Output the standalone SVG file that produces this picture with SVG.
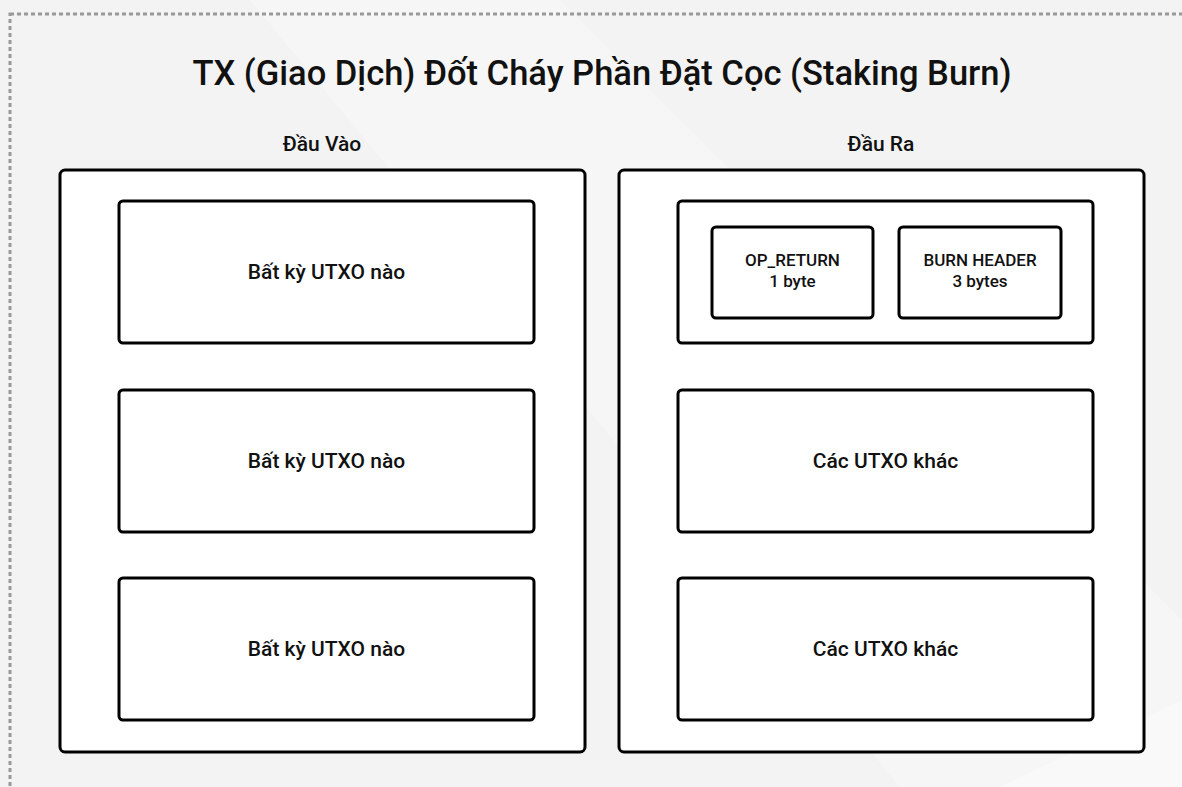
<svg xmlns="http://www.w3.org/2000/svg" width="1182" height="787" viewBox="0 0 1182 787">
<defs>
<style>
.box{fill:#ffffff;stroke:#000000;stroke-width:3}
.t{font-family:Roboto,"Noto Sans","Liberation Sans",sans-serif;fill:#111111;text-anchor:middle}
.lbl{font-size:21px;font-weight:500}
.sm{font-size:17px;font-weight:500}
.hdr{font-size:21px;font-weight:500}
</style>
</defs>
<rect x="0" y="0" width="1182" height="787" fill="#f3f3f3"/>
<polygon points="250,0 560,0 1182,620 1182,787 900,787" fill="#f6f6f6"/>
<polygon points="1000,787 1182,787 1182,700" fill="#f9f9f9"/>
<rect x="10" y="14" width="1185" height="790" fill="none" stroke="#999999" stroke-width="3" stroke-dasharray="4 3"/>
<text class="t" x="602" y="85" font-size="34.5" font-weight="500">TX (Giao Dịch) Đốt Cháy Phần Đặt Cọc (Staking Burn)</text>
<g id="inputs">
<text class="t hdr" x="322" y="151">Đầu Vào</text>
<rect class="box" x="60" y="170" width="525" height="582" rx="5"/>
</g>
<g id="outputs">
<text class="t hdr" x="881" y="151">Đầu Ra</text>
<rect class="box" x="619" y="170" width="525" height="582" rx="5"/>
</g>
<g id="in1"><rect class="box" x="119" y="201" width="415" height="142" rx="4"/><text class="t lbl" x="326.5" y="279">Bất kỳ UTXO nào</text></g>
<g id="in2"><rect class="box" x="119" y="390" width="415" height="142" rx="4"/><text class="t lbl" x="326.5" y="468">Bất kỳ UTXO nào</text></g>
<g id="in3"><rect class="box" x="119" y="578" width="415" height="142" rx="4"/><text class="t lbl" x="326.5" y="656">Bất kỳ UTXO nào</text></g>
<g id="out1"><rect class="box" x="678" y="201" width="415" height="142" rx="4"/></g>
<g id="opreturn"><rect class="box" x="712" y="227" width="161" height="91" rx="4"/><text class="t sm" x="792.5" y="266">OP_RETURN</text><text class="t sm" x="792.5" y="287">1 byte</text></g>
<g id="burnheader"><rect class="box" x="899" y="227" width="162" height="91" rx="4"/><text class="t sm" x="980" y="266">BURN HEADER</text><text class="t sm" x="980" y="287">3 bytes</text></g>
<g id="out2"><rect class="box" x="678" y="390" width="415" height="142" rx="4"/><text class="t lbl" x="885.5" y="468">Các UTXO khác</text></g>
<g id="out3"><rect class="box" x="678" y="578" width="415" height="142" rx="4"/><text class="t lbl" x="885.5" y="656">Các UTXO khác</text></g>
<g id="connectors"></g>
</svg>
